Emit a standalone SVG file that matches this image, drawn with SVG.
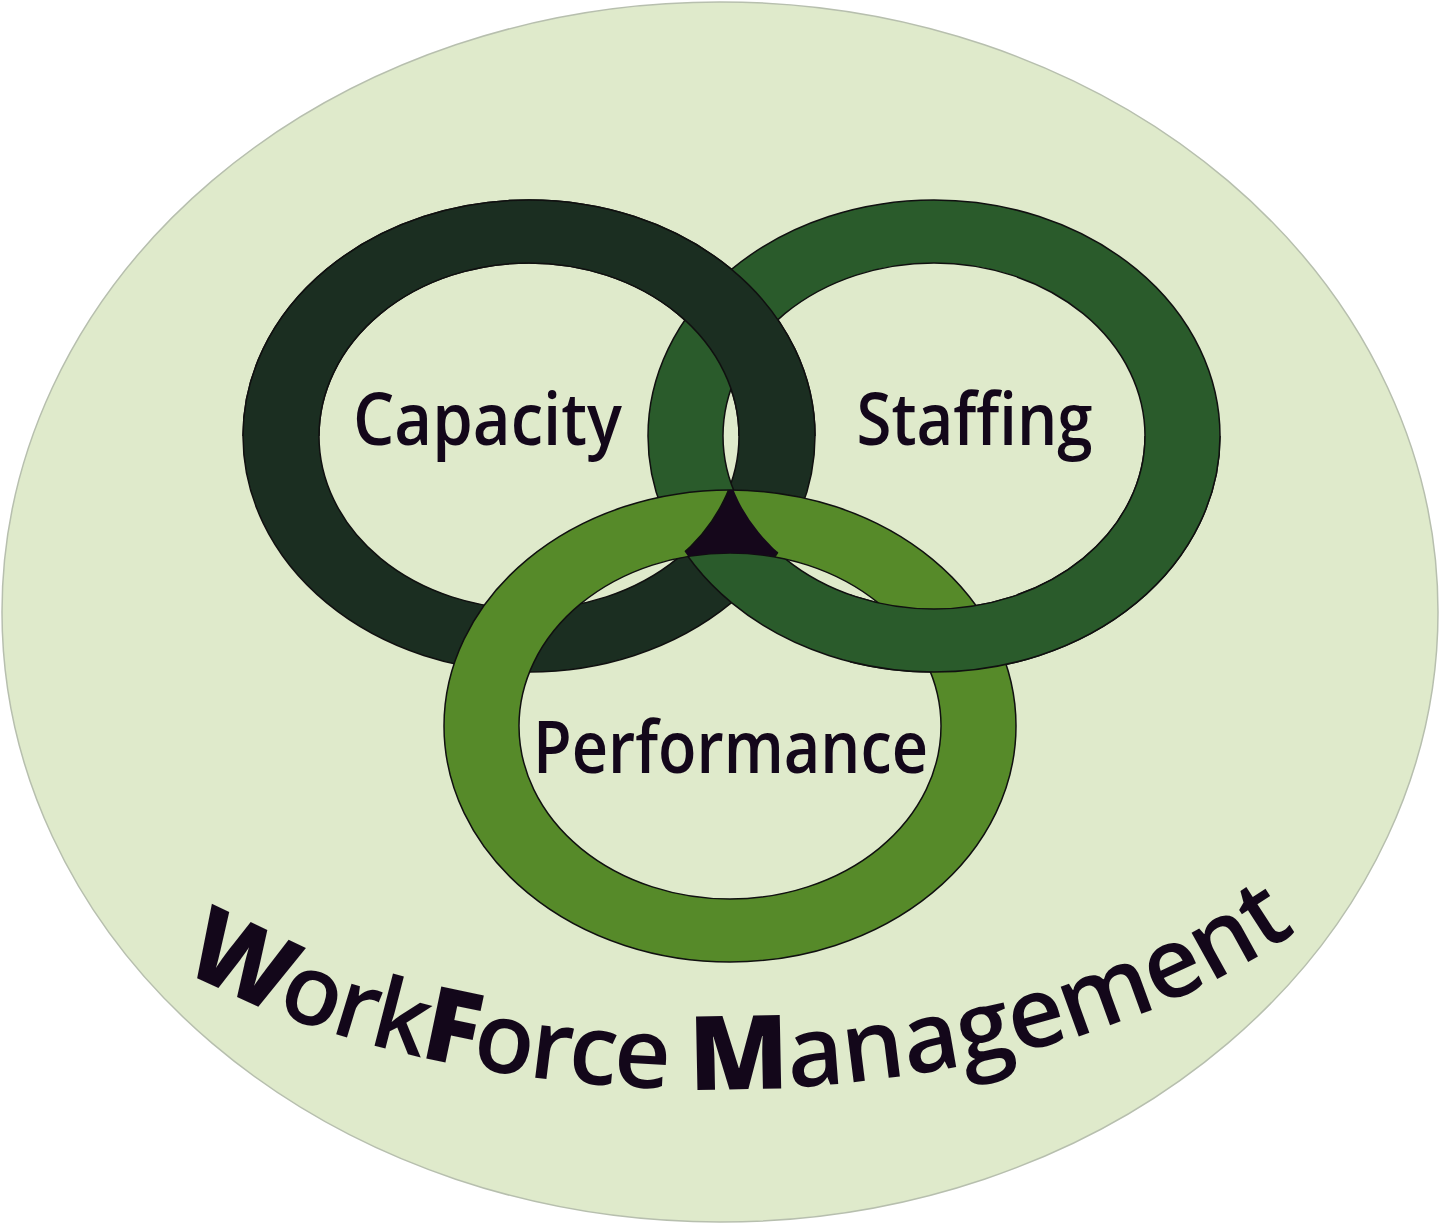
<svg xmlns="http://www.w3.org/2000/svg" xmlns:xlink="http://www.w3.org/1999/xlink" width="1440" height="1224" viewBox="0 0 1440 1224">
<style>
.bg{fill:#dfeacb;stroke:#b7bfae;stroke-width:1.5}
.band{stroke:#101010;stroke-width:1.5}
.cap{fill:#1b2e21}
.staff{fill:#2a5b2b}
.perf{fill:#568a29}
.triple{fill:#15071b;stroke:#101010;stroke-width:1.5}
.label{font-family:"Open Sans","Liberation Sans",sans-serif;font-size:73px;font-weight:600;fill:#13071a;text-anchor:middle}
.curve{font-family:"Open Sans","Liberation Sans",sans-serif;font-size:98px;font-weight:600;fill:#13071a}
.b{font-weight:800;font-size:103px}
.t1{letter-spacing:-2.5px}
.t2{letter-spacing:0px}
</style>
<defs>
<path id="capBand" fill-rule="evenodd" d="M243,436 a286,236 0 1,0 572,0 a286,236 0 1,0 -572,0 Z M319,436 a210,173 0 1,0 420,0 a210,173 0 1,0 -420,0 Z"/>
<path id="staffBand" fill-rule="evenodd" d="M648,436 a286,236 0 1,0 572,0 a286,236 0 1,0 -572,0 Z M723,436 a211,173 0 1,0 422,0 a211,173 0 1,0 -422,0 Z"/>
<path id="perfBand" fill-rule="evenodd" d="M444,726 a286,236 0 1,0 572,0 a286,236 0 1,0 -572,0 Z M519,726 a211,173 0 1,0 422,0 a211,173 0 1,0 -422,0 Z"/>
<clipPath id="clipTop"><rect x="0" y="0" width="1440" height="436"/></clipPath>
<clipPath id="clipRight"><rect x="850" y="436" width="590" height="788"/></clipPath>
<clipPath id="clipStaff"><path clip-rule="evenodd" d="M648,436 a286,236 0 1,0 572,0 a286,236 0 1,0 -572,0 Z M723,436 a211,173 0 1,0 422,0 a211,173 0 1,0 -422,0 Z"/></clipPath>
<clipPath id="clipPerf"><path clip-rule="evenodd" d="M444,726 a286,236 0 1,0 572,0 a286,236 0 1,0 -572,0 Z M519,726 a211,173 0 1,0 422,0 a211,173 0 1,0 -422,0 Z"/></clipPath>
<path id="arc" d="M175,965 C456,1127 997,1149 1310,922"/>
</defs>
<ellipse class="bg" cx="720" cy="612" rx="718" ry="610"/>
<g id="capacity">
<use xlink:href="#capBand" href="#capBand" class="band cap"/>
<text class="label" x="487.5" y="445" textLength="269" lengthAdjust="spacingAndGlyphs">Capacity</text>
</g>
<g id="staffing">
<use xlink:href="#staffBand" href="#staffBand" class="band staff"/>
<text class="label" x="974.5" y="445" textLength="236" lengthAdjust="spacingAndGlyphs">Staffing</text>
</g>
<g id="performance">
<use xlink:href="#perfBand" href="#perfBand" class="band perf"/>
<text class="label" x="730.5" y="773" textLength="395" lengthAdjust="spacingAndGlyphs">Performance</text>
</g>
<g id="interlock">
<use xlink:href="#capBand" href="#capBand" class="band cap" clip-path="url(#clipTop)"/>
<use xlink:href="#staffBand" href="#staffBand" class="band staff" clip-path="url(#clipRight)"/>
<g clip-path="url(#clipStaff)">
<use xlink:href="#capBand" href="#capBand" class="triple" clip-path="url(#clipPerf)"/>
</g>
</g>
<g id="title">
<text class="curve"><textPath xlink:href="#arc" href="#arc" startOffset="6"><tspan class="t1"><tspan class="b">W</tspan>ork<tspan class="b">F</tspan>orce </tspan><tspan class="t2"><tspan class="b">M</tspan>anagement</tspan></textPath></text>
</g>
</svg>
